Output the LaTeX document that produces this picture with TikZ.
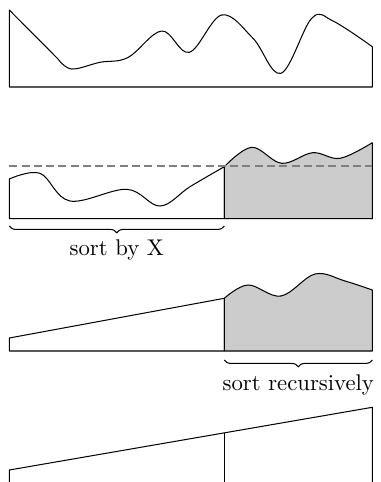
\documentclass[tikz,border=0pt]{standalone}
\usetikzlibrary{decorations.pathreplacing}
\begin{document}
\begin{tikzpicture}[x=0.44pt,y=-0.44pt,
  outline/.style={draw=black,line width=0.45pt,line join=round},
  shaded/.style={outline,fill=gray!40},
  level/.style={draw=gray,line width=0.9pt,dash pattern=on 3.5pt off 1.9pt},
  bracebelow/.style={draw=black,line width=0.45pt,decorate,decoration={brace,mirror,amplitude=3pt}},
  label/.style={anchor=base,inner sep=0pt,font=\normalsize}]
\useasboundingbox (0,0) rectangle (380,482);
\clip (0,0) rectangle (380,482);

% panel 1
\draw[outline] (9.3,87) -- (9.3,10) -- (58,59) -- plot[smooth,tension=0.6] coordinates {
  (58,59) (71.7,69) (100,62.3) (128,57.5) (161.7,31)
  (189.3,52.3) (221.7,15) (253,38.3) (281,73.3)
  (311.7,18.3) (333,21) (372.3,46.7)} -- (372.3,87) -- cycle;

% panel 2
\coordinate (p2a) at (9.3,218.7);
\coordinate (p2m) at (224.3,218.7);
\coordinate (p2b) at (372.3,218.7);
\draw[outline] (p2a) -- plot[smooth,tension=0.6] coordinates {
  (9.3,179) (40,173.3) (70,201) (126.7,189.3) (160,206) (190,186.7) (224.3,166.7)} -- (p2m) -- cycle;
\draw[shaded] (p2m) -- plot[smooth,tension=0.6] coordinates {
  (224.3,166.7) (251.7,147.3) (281.7,163.3) (312.7,152.7) (340,158.3) (372.3,142.7)} -- (p2b) -- cycle;
\coordinate (dl) at (9.3,166);
\coordinate (dr) at (372.3,166);
\draw[level] (dl) -- (dr);
\coordinate (b1l) at (9.3,226);
\coordinate (b1r) at (224.3,226);
\draw[bracebelow] (b1l) -- (b1r);
\node[label] (sortx) at (116.8,255.7) {sort by X};

% panel 3
\coordinate (p3a) at (9.3,351);
\coordinate (p3m) at (224.3,351);
\coordinate (p3b) at (372.3,351);
\draw[outline] (p3a) -- (9.3,338) -- (224.3,298.3) -- (p3m) -- cycle;
\draw[shaded] (p3m) -- plot[smooth,tension=0.6] coordinates {
  (224.3,298.3) (248,285) (281,296) (315,274) (345,281) (372.3,290)} -- (p3b) -- cycle;
\coordinate (b2l) at (224.3,360);
\coordinate (b2r) at (372.3,360);
\draw[bracebelow] (b2l) -- (b2r);
\node[label] (sortr) at (298.3,390) {sort recursively};

% panel 4
\coordinate (p4a) at (9.3,470);
\coordinate (p4b) at (372.3,407.3);
\coordinate (p4m) at (224.3,432.9);
\draw[outline] (9.3,500) -- (p4a) -- (p4b) -- (372.3,500);
\draw[outline] (p4m) -- (224.3,500);
\end{tikzpicture}
\end{document}
